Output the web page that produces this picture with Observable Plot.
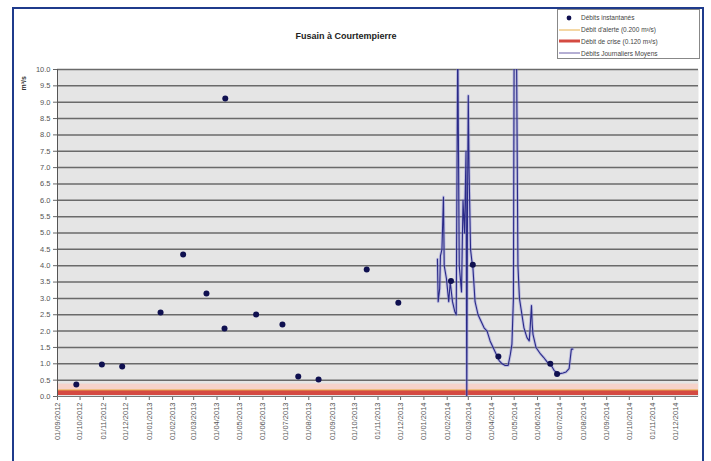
<!DOCTYPE html>
<html><head><meta charset="utf-8">
<script src="https://cdn.jsdelivr.net/npm/d3@7"></script>
<script src="https://cdn.jsdelivr.net/npm/@observablehq/plot@0.6"></script>
<style>
body{margin:0;background:#fff;font-family:"Liberation Sans",Arial,sans-serif;}
#wrap{position:relative;width:711px;height:461px;overflow:hidden;background:#fff;}
#chart{position:absolute;left:0;top:0;}
#frame{position:absolute;left:12px;top:7px;width:692px;height:462px;border:2px solid #1f3b8c;box-sizing:border-box;pointer-events:none;}
#title{position:absolute;left:0;width:692px;top:31px;text-align:center;font-size:9px;font-weight:bold;color:#222;}
#legend{position:absolute;left:557px;top:9px;width:143px;height:50px;border:1px solid #888;background:#fff;box-sizing:border-box;font-size:6.5px;color:#444;padding-top:2px;}
.row{height:11.8px;display:flex;align-items:center;white-space:nowrap;}
.sw{width:22px;height:8px;margin-right:1px;flex:none;}
</style></head>
<body>
<div id="wrap">
  <div id="chart"></div>
  <div id="title"></div>
  <div id="legend"></div>
  <div id="frame"></div>
</div>
<script>
const titleText = "Fusain à Courtempierre";
const yLabel = "m³/s";

// Débits instantanés
const instDates = ["2012-09-26","2012-10-30","2012-11-26","2013-01-16","2013-02-15","2013-03-18","2013-04-11","2013-04-12","2013-05-23","2013-06-27","2013-07-18","2013-08-14","2013-10-17","2013-11-28","2014-02-06","2014-03-07","2014-04-10","2014-06-18","2014-06-27"];
const instValues = [0.37,0.98,0.92,2.57,4.34,3.15,2.08,9.11,2.51,2.20,0.61,0.52,3.88,2.87,3.53,4.03,1.22,1.00,0.69];

// Débits journaliers moyens
const dailyDates = ["2014-01-19","2014-01-20","2014-01-22","2014-01-23","2014-01-25","2014-01-27","2014-01-28","2014-01-31","2014-02-03","2014-02-05","2014-02-08","2014-02-11","2014-02-13","2014-02-15","2014-02-17","2014-02-20","2014-02-22","2014-02-24","2014-02-26","2014-02-27","2014-02-28","2014-03-01","2014-03-02","2014-03-04","2014-03-06","2014-03-07","2014-03-10","2014-03-14","2014-03-18","2014-03-22","2014-03-26","2014-03-30","2014-04-03","2014-04-07","2014-04-11","2014-04-15","2014-04-19","2014-04-23","2014-04-26","2014-04-28","2014-04-30","2014-05-01","2014-05-02","2014-05-03","2014-05-04","2014-05-06","2014-05-08","2014-05-10","2014-05-14","2014-05-18","2014-05-21","2014-05-22","2014-05-24","2014-05-25","2014-05-26","2014-05-30","2014-06-05","2014-06-09","2014-06-14","2014-06-18","2014-06-23","2014-06-27","2014-07-01","2014-07-05","2014-07-09","2014-07-13","2014-07-16","2014-07-18"];
const dailyValues = [4.2,2.9,3.3,4.3,4.5,6.1,4.0,3.6,2.9,3.5,2.9,2.6,2.5,11.0,4.0,3.2,6.0,5.0,7.5,0.0,6.0,9.2,7.0,4.5,4.1,4.0,2.9,2.5,2.3,2.1,2.0,1.7,1.5,1.3,1.1,1.0,0.95,0.95,1.3,1.6,3.0,11.0,11.5,11.0,11.0,4.0,3.0,2.7,2.1,1.8,1.7,2.0,2.78,2.2,1.9,1.5,1.3,1.2,1.05,1.0,0.8,0.72,0.7,0.72,0.75,0.85,1.45,1.45];

const alertLevel = 0.200;
const crisisLevel = 0.120;

const yTicks = [0,0.5,1,1.5,2,2.5,3,3.5,4,4.5,5,5.5,6,6.5,7,7.5,8,8.5,9,9.5,10];
const monthTicks = ["2012-09-01","2012-10-01","2012-11-01","2012-12-01","2013-01-01","2013-02-01","2013-03-01","2013-04-01","2013-05-01","2013-06-01","2013-07-01","2013-08-01","2013-09-01","2013-10-01","2013-11-01","2013-12-01","2014-01-01","2014-02-01","2014-03-01","2014-04-01","2014-05-01","2014-06-01","2014-07-01","2014-08-01","2014-09-01","2014-10-01","2014-11-01","2014-12-01"];
const xDomain = ["2012-09-01","2015-01-01"];

const legendLabels = ["Débits instantanés","Débit d'alerte (0.200 m³/s)","Débit de crise (0.120 m³/s)","Débits Journaliers Moyens"];

const parse = d3.utcParse("%Y-%m-%d");
const inst = instDates.map((d,i)=>({date:parse(d), value:instValues[i]}));
const daily = dailyDates.map((d,i)=>({date:parse(d), value:dailyValues[i]}));

const plot = Plot.plot({
  width: 711, height: 461,
  marginLeft: 57, marginRight: 13, marginTop: 69, marginBottom: 65,
  style: {fontFamily: "Liberation Sans, Arial, sans-serif", background: "transparent"},
  x: {type: "utc", domain: xDomain.map(parse), ticks: monthTicks.map(parse), tickFormat: d3.utcFormat("%d/%m/%Y"), tickRotate: -90, tickSize: 4, tickPadding: 2, label: null},
  y: {domain: [0,10], ticks: yTicks, tickFormat: d3.format(".1f"), tickSize: 4, tickPadding: 3, label: null},
  marks: [
    Plot.frame({fill: "#e5e5e5", stroke: null}),
    Plot.rect([{y1: 0.17, y2: 0.38}], {y1: "y1", y2: "y2", fill: "#f6d2ca"}),
    Plot.ruleY(yTicks.filter(v=>v>0), {stroke: "#6a6a6a", strokeWidth: 1.5}),
    Plot.ruleY([crisisLevel], {stroke: "#d44a42", strokeWidth: 5}),
    Plot.ruleY([alertLevel], {stroke: "#e9b04a", strokeWidth: 1}),
    Plot.axisX({ticks: monthTicks.map(parse), tickFormat: d3.utcFormat("%d/%m/%Y"), tickRotate: -90, tickSize: 4, tickPadding: 2, fontSize: 7.5, fill: "#555", stroke: "#666", label: null}),
    Plot.axisY({ticks: yTicks, tickFormat: d3.format(".1f"), tickSize: 4, tickPadding: 3, fontSize: 7.5, fill: "#555", stroke: "#666", label: null}),
    Plot.ruleX([parse(xDomain[0])], {stroke: "#555", strokeWidth: 1}),
    Plot.ruleY([0], {stroke: "#777", strokeWidth: 1}),
    Plot.line(daily, {x: "date", y: "value", stroke: "#8f8fd8", strokeWidth: 3, strokeOpacity: 0.45, clip: true}),
    Plot.line(daily, {x: "date", y: "value", stroke: "#2a2a88", strokeWidth: 1.1, clip: true}),
    Plot.dot(inst, {x: "date", y: "value", r: 3, fill: "#0f1050", stroke: null}),
    Plot.text([yLabel], {frameAnchor: "top-left", dx: -36, dy: 21, rotate: -90, fontSize: 7, fontWeight: "bold", fill: "#333", text: d=>d})
  ]
});
document.getElementById("chart").appendChild(plot);
document.getElementById("title").textContent = titleText;

const sw = [
  '<svg class="sw" viewBox="0 0 22 8"><circle cx="11" cy="4" r="2.4" fill="#0f1050"/></svg>',
  '<svg class="sw" viewBox="0 0 22 8"><line x1="1" x2="22" y1="4" y2="4" stroke="#e9b04a" stroke-width="1"/></svg>',
  '<svg class="sw" viewBox="0 0 22 8"><line x1="1" x2="22" y1="4" y2="4" stroke="#d44a42" stroke-width="3"/></svg>',
  '<svg class="sw" viewBox="0 0 22 8"><line x1="1" x2="22" y1="4" y2="4" stroke="#6a5ea8" stroke-width="1"/></svg>'
];
document.getElementById("legend").innerHTML = legendLabels.map((l,i)=>`<div class="row">${sw[i]}<span>${l}</span></div>`).join("");
</script>
</body></html>
